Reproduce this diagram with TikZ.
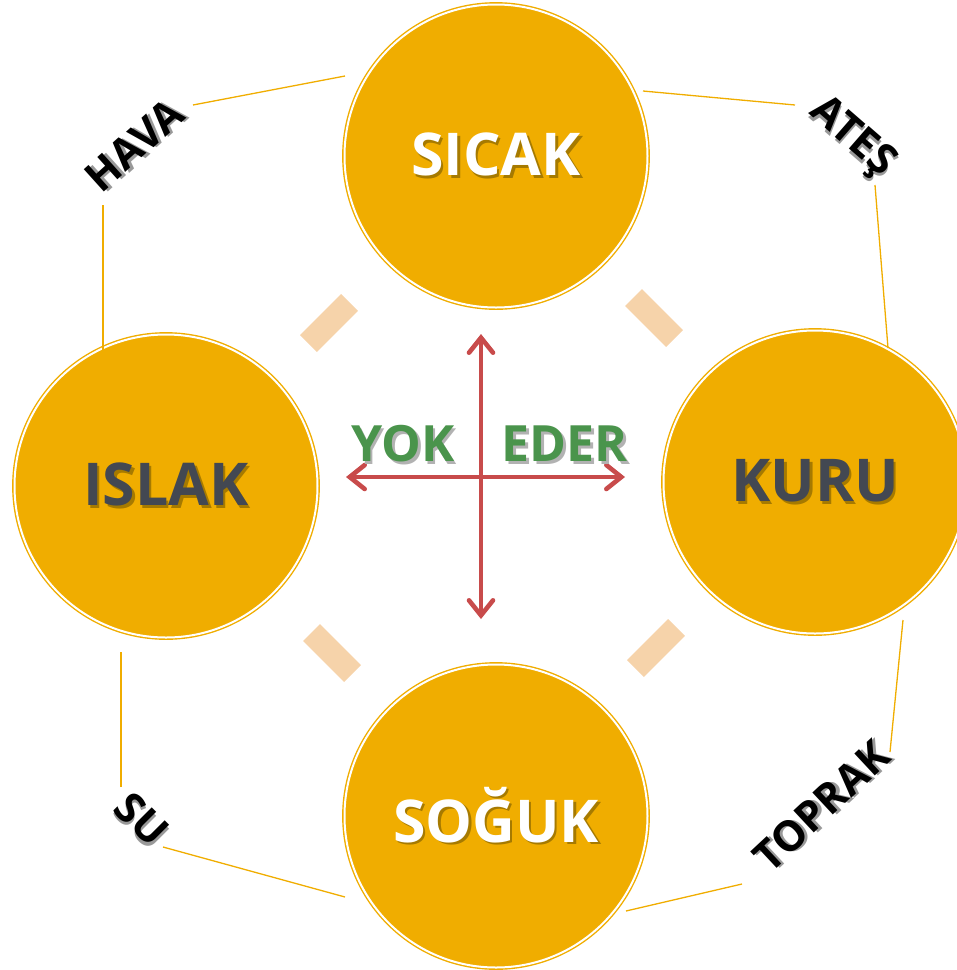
\documentclass[tikz,border=0pt]{standalone}
\usepackage{fontspec}
\setmainfont{Open Sans}
\usetikzlibrary{arrows.meta}
\definecolor{gold}{HTML}{F0AD00}
\definecolor{goldshade}{HTML}{A67A00}
\definecolor{peach}{HTML}{F6D3AA}
\definecolor{crossred}{HTML}{C84B4B}
\definecolor{leafgreen}{HTML}{4A944C}
\definecolor{slate}{HTML}{434852}
\newcommand{\shadowed}[3]{\makebox[0pt][l]{\hspace{2.5pt}\raisebox{-2.5pt}{\color{#1}#3}}{\color{#2}#3}}
\tikzset{
  element/.style={circle, fill=gold, draw=gold, double=white, double distance=2pt, line width=1.4pt,
    minimum size=303pt, inner sep=0pt, font=\fontsize{59}{60}\selectfont\bfseries},
  corner/.style={inner sep=0pt, font=\fontsize{42}{42}\selectfont\bfseries},
  peachbar/.style={fill=peach, minimum width=58pt, minimum height=24pt, inner sep=0pt},
  link/.style={draw=gold, line width=1.3pt},
  crossarrow/.style={draw=crossred, line width=4.6pt, line cap=round,
    {Straight Barb[length=15pt,width=24pt,line cap=round]}-{Straight Barb[length=15pt,width=24pt,line cap=round]}},
  quality/.style={inner sep=0pt, font=\fontsize{50}{50}\selectfont\bfseries}
}
\begin{document}
\begin{tikzpicture}[x=1pt,y=-1pt]
\useasboundingbox (0,0) rectangle (957,970);
% the four qualities
\node[element] (sicak) at (496,156) {\shadowed{goldshade}{white}{SICAK}};
\node[element] (islak) at (166,486) {\shadowed{goldshade}{slate}{ISLAK}};
\node[element] (kuru) at (815,482) {\shadowed{goldshade}{slate}{KURU}};
\node[element] (soguk) at (496,816) {\shadowed{goldshade}{white}{SOĞUK}};
% peach bars between them
\node[peachbar, rotate=45] (nw) at (329,323) {};
\node[peachbar, rotate=-45] (ne) at (654,318) {};
\node[peachbar, rotate=-45] (sw) at (332,653) {};
\node[peachbar, rotate=45] (se) at (656,648) {};
% the cross in the middle
\coordinate (west) at (346,477);
\coordinate (east) at (625,477);
\coordinate (north) at (481,334);
\coordinate (south) at (481,619);
\draw[crossarrow] (west) -- (east);
\draw[crossarrow] (north) -- (south);
\node[quality] (yok) at (403,445) {\shadowed{black!30}{leafgreen}{YOK}};
\node[quality] (eder) at (565,445) {\shadowed{black!30}{leafgreen}{EDER}};
% the four elements
\node[corner, rotate=42] (hava) at (135,146) {\shadowed{black!40}{black}{HAVA}};
\node[corner, rotate=-41] (ates) at (851,139) {\shadowed{black!40}{black}{ATEŞ}};
\node[corner, rotate=43] (toprak) at (822,807) {\shadowed{black!40}{black}{TOPRAK}};
\node[corner, rotate=-45] (su) at (141,820) {\shadowed{black!40}{black}{SU}};
% thin links
\coordinate (hava-e) at (193,105);
\coordinate (hava-s) at (103,205);
\coordinate (sicak-w) at (345,76);
\coordinate (sicak-e) at (643,91);
\coordinate (ates-w) at (795,105);
\coordinate (ates-s) at (875,185);
\coordinate (kuru-n) at (888,348);
\coordinate (kuru-s) at (903,620);
\coordinate (toprak-n) at (890,752);
\coordinate (toprak-w) at (742,884);
\coordinate (soguk-e) at (626,911);
\coordinate (soguk-w) at (345,897);
\coordinate (su-e) at (163,847);
\coordinate (su-n) at (121,787);
\coordinate (islak-s) at (121,652);
\coordinate (islak-n) at (103,350);
\draw[link] (hava-e) -- (sicak-w);
\draw[link] (hava-s) -- (islak-n);
\draw[link] (sicak-e) -- (ates-w);
\draw[link] (ates-s) -- (kuru-n);
\draw[link] (kuru-s) -- (toprak-n);
\draw[link] (toprak-w) -- (soguk-e);
\draw[link] (su-e) -- (soguk-w);
\draw[link] (su-n) -- (islak-s);
\end{tikzpicture}
\end{document}
